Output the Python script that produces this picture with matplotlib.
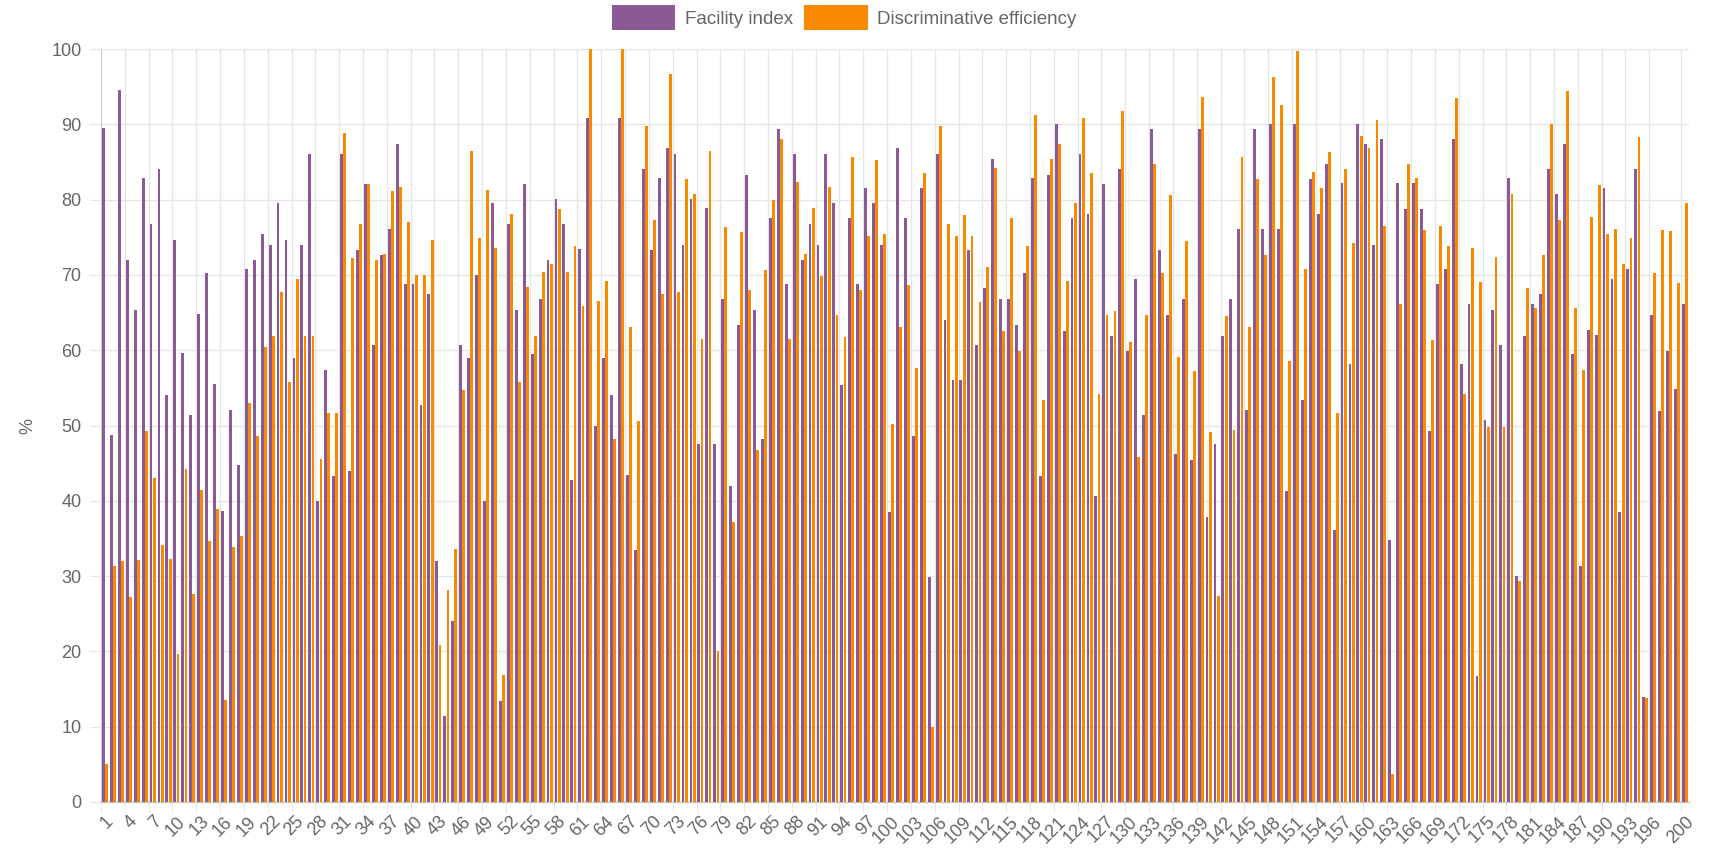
import numpy as np
import matplotlib.pyplot as plt

plt.rcParams['font.family'] = ['Liberation Sans', 'DejaVu Sans']

labels = [str(i) for i in range(1, 201)]

facility = [
    89.5, 48.7, 94.6, 72.0, 65.4, 82.9, 76.7, 84.0, 54.1, 74.7,
    59.6, 51.4, 64.8, 70.2, 55.5, 38.7, 52.0, 44.7, 70.8, 72.0,
    75.4, 74.0, 79.5, 74.6, 58.9, 74.0, 86.0, 40.0, 57.4, 43.3,
    86.0, 44.0, 73.3, 82.1, 60.7, 72.6, 76.1, 87.4, 68.8, 68.8,
    52.7, 67.4, 32.0, 11.4, 24.1, 60.7, 58.9, 70.0, 40.0, 79.5,
    13.4, 76.7, 65.4, 82.1, 59.5, 66.8, 72.0, 80.1, 76.7, 42.7,
    73.4, 90.8, 50.0, 58.9, 54.0, 90.8, 43.4, 33.4, 84.0, 73.3,
    82.9, 86.8, 86.0, 74.0, 80.1, 47.5, 78.9, 47.5, 66.8, 42.0,
    63.3, 83.3, 65.4, 48.2, 77.5, 89.4, 68.8, 86.0, 72.0, 76.7,
    74.0, 86.0, 79.5, 55.4, 77.5, 68.8, 81.5, 79.5, 74.0, 38.5,
    86.8, 77.5, 48.6, 81.5, 29.9, 86.0, 64.0, 56.1, 56.1, 73.3,
    60.7, 68.2, 85.4, 66.8, 66.8, 63.3, 70.2, 82.9, 43.3, 83.3,
    90.0, 62.6, 77.5, 86.0, 78.1, 40.6, 82.1, 61.9, 84.0, 59.9,
    69.5, 51.4, 89.4, 73.3, 64.7, 46.2, 66.8, 45.4, 89.4, 37.9,
    47.5, 61.9, 66.8, 76.1, 52.0, 89.4, 76.1, 90.1, 76.1, 41.3,
    90.1, 53.4, 82.8, 78.1, 84.7, 36.1, 82.2, 58.2, 90.1, 87.4,
    74.0, 88.1, 34.8, 82.2, 78.8, 82.2, 78.8, 49.3, 68.8, 70.8,
    88.1, 58.2, 66.1, 16.7, 50.7, 65.4, 60.7, 82.9, 30.0, 61.9,
    66.1, 67.4, 84.0, 80.8, 87.4, 59.5, 31.3, 62.7, 62.0, 81.5,
    69.5, 38.5, 70.8, 84.0, 14.0, 64.7, 51.9, 59.9, 54.8, 66.1,
]

discrimination = [
    5.0, 31.4, 32.0, 27.2, 32.1, 49.3, 43.0, 34.1, 32.3, 19.6,
    44.2, 27.6, 41.4, 34.6, 38.9, 13.6, 33.8, 35.3, 53.0, 48.6,
    60.4, 61.9, 67.7, 55.8, 69.5, 61.9, 61.9, 45.5, 51.6, 51.6,
    88.8, 72.2, 76.7, 82.1, 72.0, 72.8, 81.1, 81.7, 77.0, 70.0,
    70.0, 74.6, 20.9, 28.2, 33.6, 54.7, 86.4, 74.9, 81.3, 73.6,
    16.8, 78.1, 55.8, 68.4, 61.9, 70.4, 71.5, 78.8, 70.4, 73.8,
    65.9, 100.0, 66.5, 69.2, 48.2, 100.0, 63.1, 50.6, 89.8, 77.3,
    67.4, 96.7, 67.7, 82.7, 80.8, 61.5, 86.5, 20.1, 76.3, 37.2,
    75.7, 68.0, 46.8, 70.6, 79.9, 88.0, 61.5, 82.4, 72.8, 78.9,
    69.8, 81.7, 64.7, 61.8, 85.6, 68.0, 75.2, 85.2, 75.4, 50.2,
    63.1, 68.6, 57.7, 83.5, 10.0, 89.8, 76.7, 75.1, 77.9, 75.1,
    66.4, 71.0, 84.2, 62.6, 77.5, 59.9, 73.8, 91.2, 53.4, 85.4,
    87.4, 69.2, 79.5, 90.8, 83.5, 54.2, 64.7, 65.2, 91.7, 61.1,
    45.8, 64.7, 84.7, 70.2, 80.6, 59.1, 74.5, 57.3, 93.6, 49.1,
    27.3, 64.5, 49.4, 85.6, 63.1, 82.7, 72.6, 96.3, 92.6, 58.6,
    99.7, 70.8, 83.7, 81.5, 86.3, 51.6, 84.0, 74.2, 88.5, 86.8,
    90.6, 76.5, 3.7, 66.1, 84.7, 82.9, 75.9, 61.3, 76.5, 73.8,
    93.5, 54.2, 73.6, 69.0, 49.8, 72.4, 49.8, 80.8, 29.3, 68.2,
    65.6, 72.6, 90.1, 77.3, 94.4, 65.6, 57.4, 77.7, 81.9, 75.4,
    76.1, 71.5, 74.9, 88.3, 13.8, 70.3, 76.0, 75.8, 68.9, 79.6,
]

purple = '#8b5a96'
orange = '#f98a00'
grid_col = '#e6e6e6'
text_col = '#666666'

fig = plt.figure(figsize=(17.11, 8.51), dpi=100)
ax = fig.add_axes([101 / 1711, 49 / 851, 1588 / 1711, 753 / 851])

x = np.arange(len(labels))
w = 0.36
ax.bar(x - 0.2, facility, w, color=purple, label='Facility index', zorder=3)
ax.bar(x + 0.2, discrimination, w, color=orange, label='Discriminative efficiency', zorder=3)

ax.set_xlim(-0.5, len(labels) - 0.5)
ax.set_ylim(0, 100)

# shown labels: every third one plus the last
shown = list(range(0, 196, 3)) + [199]
ax.set_xticks(shown)
ax.set_xticklabels([labels[i] for i in shown], rotation=45, ha='right',
                   rotation_mode='anchor', fontsize=13, color=text_col)
ax.set_xticks([i - 0.5 for i in shown], minor=True)
ax.tick_params(axis='x', which='major', length=0, pad=8)
ax.tick_params(axis='x', which='minor', length=8, color=grid_col)
ax.grid(axis='x', which='minor', color=grid_col, linewidth=1, zorder=0)

ax.set_yticks(range(0, 101, 10))
ax.tick_params(axis='y', length=8, color=grid_col, labelsize=13, labelcolor=text_col, pad=6)
ax.grid(axis='y', which='major', color=grid_col, linewidth=1, zorder=0)
ax.set_ylabel('%', fontsize=13, color=text_col, labelpad=11)

for s in ['top', 'right']:
    ax.spines[s].set_visible(False)
ax.spines['left'].set_color('#d0d0d0')
ax.spines['bottom'].set_color('#c0c0c0')

ax.legend(loc='lower center', bbox_to_anchor=(0.468, 1.0), ncol=2, frameon=False,
          fontsize=13.5, handlelength=3.4, handleheight=1.7, columnspacing=0.6,
          handletextpad=0.5, labelcolor=text_col, borderaxespad=0.6)

plt.savefig('out.png')
